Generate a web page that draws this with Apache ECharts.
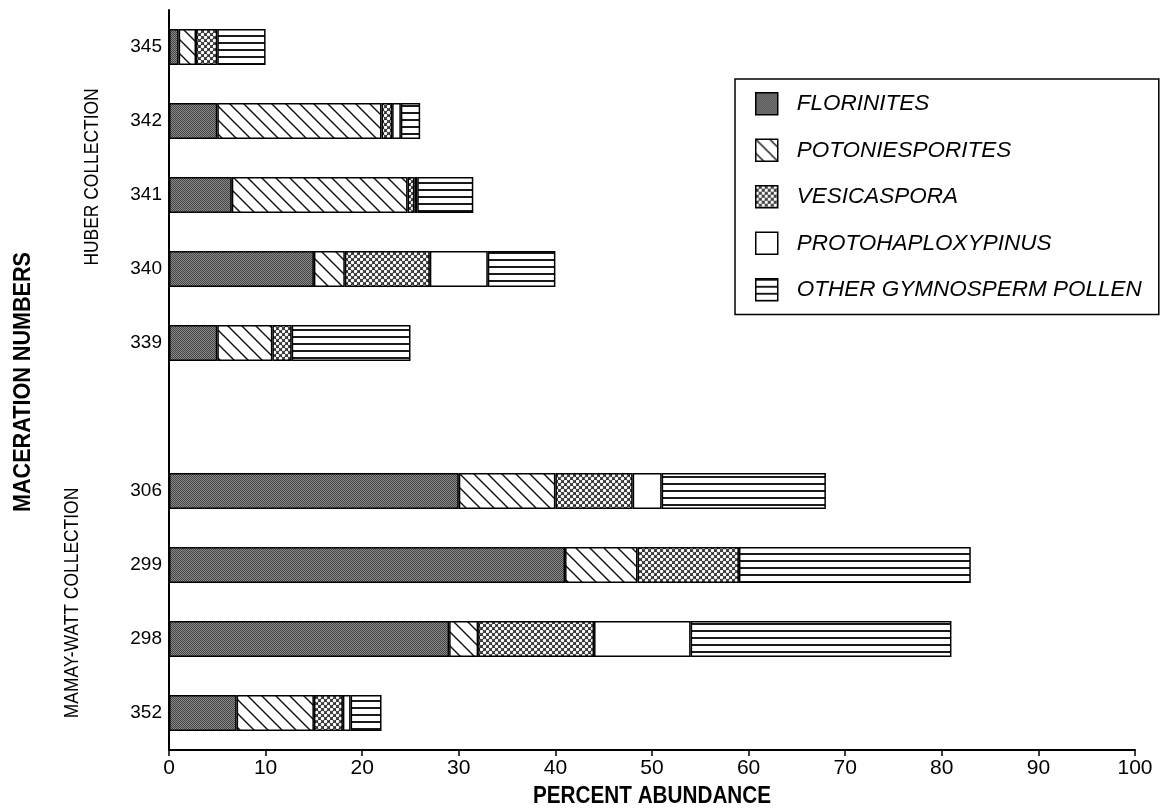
<!DOCTYPE html>
<html>
<head>
<meta charset="utf-8">
<script src="https://cdn.jsdelivr.net/npm/echarts@6/dist/echarts.min.js"></script>
<style>
  html, body { margin: 0; padding: 0; background: #fff; }
  #chart { width: 1168px; height: 810px; }
</style>
</head>
<body>
<div id="chart"></div>
<script>
// Maceration samples, bottom to top; the blank entry separates the two collections.
const samples = ['352', '298', '299', '306', '', '339', '340', '341', '342', '345'];

// Percent abundance of each pollen group per sample.
const florinites        = [7,   29, 41,   30, null, 5,    15,  6.5,  5,   1];
const potoniesporites   = [8,   3,  7.5,  10, null, 5.7,  3.2, 18.2, 17,  1.8];
const vesicaspora       = [3,   12, 10.5, 8,  null, 2,    8.8, 0.7,  1.1, 2.2];
const protohaploxypinus = [0.8, 10, null, 3,  null, null, 6,   0.3,  0.9, null];
const otherGymnosperm   = [3.2, 27, 24,   17, null, 12.3, 7,   5.8,  2,   5];

const seriesNames = ['FLORINITES', 'POTONIESPORITES', 'VESICASPORA', 'PROTOHAPLOXYPINUS', 'OTHER GYMNOSPERM POLLEN'];

const SANS = '"Liberation Sans", Arial, sans-serif';

// Small repeating tiles used as hatch fills.
function tile(w, h, draw) {
  const c = document.createElement('canvas');
  c.width = w; c.height = h;
  draw(c.getContext('2d'), w, h);
  return { image: c, repeat: 'repeat' };
}
const stipple = tile(2, 2, g => {
  g.fillStyle = '#8a8a8a'; g.fillRect(0, 0, 2, 2);
  g.fillStyle = '#444'; g.fillRect(0, 0, 1, 1); g.fillRect(1, 1, 1, 1);
});
const diagonal = tile(14, 14, g => {
  g.fillStyle = '#fff'; g.fillRect(0, 0, 14, 14);
  g.strokeStyle = '#111'; g.lineWidth = 1.4;
  g.beginPath();
  g.moveTo(-2, -2); g.lineTo(16, 16);
  g.moveTo(-2, 12); g.lineTo(2, 16);
  g.moveTo(12, -2); g.lineTo(16, 2);
  g.stroke();
});
const lattice = tile(6, 6, g => {
  g.fillStyle = '#333'; g.fillRect(0, 0, 6, 6);
  g.fillStyle = '#fff';
  [[1.5, 1.5], [4.5, 4.5], [-1.5, 4.5], [4.5, -1.5], [7.5, 4.5], [4.5, 7.5]].forEach(([x, y]) => {
    g.beginPath(); g.arc(x, y, 1.7, 0, Math.PI * 2); g.fill();
  });
});
const hlines = tile(8, 7, g => {
  g.fillStyle = '#fff'; g.fillRect(0, 0, 8, 7);
  g.fillStyle = '#1a1a1a'; g.fillRect(0, 0, 8, 2);
});

const values = [florinites, potoniesporites, vesicaspora, protohaploxypinus, otherGymnosperm];
const fills = [stipple, diagonal, lattice, '#ffffff', hlines];

// Condensed-looking caption text, squeezed along its reading direction.
function caption(text, x, y, font, rotation, squeeze) {
  return {
    type: 'text', x: x, y: y, rotation: rotation, scaleX: squeeze,
    style: { text: text, font: font, fill: '#000', align: 'center', verticalAlign: 'middle' }
  };
}

const chart = echarts.init(document.getElementById('chart'), null, { renderer: 'canvas' });

chart.setOption({
  animation: false,
  backgroundColor: '#fff',
  grid: { left: 169, right: 33, top: 10, bottom: 60, containLabel: false },
  legend: {
    orient: 'vertical',
    left: 735, top: 79,
    itemWidth: 22, itemHeight: 22, itemGap: 23,
    padding: [13, 17, 13, 20],
    borderColor: '#000', borderWidth: 1.5,
    icon: 'rect',
    itemStyle: { borderColor: '#000', borderWidth: 1.5 },
    textStyle: { fontFamily: SANS, fontStyle: 'italic', fontSize: 22.5, color: '#000', padding: [0, 0, 0, 14] },
    data: seriesNames
  },
  xAxis: {
    type: 'value',
    min: 0, max: 100, interval: 10,
    splitLine: { show: false },
    axisLine: { show: true, lineStyle: { color: '#000', width: 2 } },
    axisTick: { show: true, length: 6, lineStyle: { color: '#000', width: 1.5 } },
    axisLabel: { fontFamily: SANS, fontSize: 21, color: '#000', margin: 8 }
  },
  yAxis: {
    type: 'category',
    data: samples,
    axisLine: { show: true, lineStyle: { color: '#000', width: 2 } },
    axisTick: { show: false },
    axisLabel: { fontFamily: SANS, fontSize: 19, color: '#000', margin: 7 }
  },
  graphic: [
    caption('PERCENT ABUNDANCE', 652, 797, 'bold 23px ' + SANS, 0, 0.9),
    caption('MACERATION NUMBERS', 23, 382, 'bold 24px ' + SANS, Math.PI / 2, 0.9),
    caption('HUBER COLLECTION', 92, 177, '21px ' + SANS, Math.PI / 2, 0.83),
    caption('MAMAY-WATT COLLECTION', 72, 603, '21px ' + SANS, Math.PI / 2, 0.83)
  ],
  series: seriesNames.map((name, i) => ({
    name: name,
    type: 'bar',
    stack: 'abundance',
    barWidth: 36,
    data: values[i],
    itemStyle: { color: fills[i], borderColor: '#000', borderWidth: 1.5 },
    emphasis: { disabled: true }
  }))
});
</script>
</body>
</html>
